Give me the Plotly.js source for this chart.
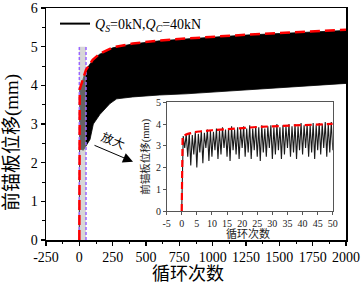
<!DOCTYPE html>
<html>
<head>
<meta charset="utf-8">
<script src="https://cdn.plot.ly/plotly-3.0.1.min.js"></script>
<style>html,body{margin:0;padding:0;background:#fff;}#chart{width:363px;height:283px;}</style>
</head>
<body>
<div id="chart"></div>
<script>
// ---- Main chart data (cycles vs. front anchor plate displacement, mm) ----
var upperCycles = [0, 3, 50, 100, 150, 250, 400, 600, 800, 1000, 1250, 1500, 1750, 2000];
var upperDisp   = [0, 3.9, 4.4, 4.65, 4.8, 4.97, 5.07, 5.15, 5.2, 5.25, 5.3, 5.34, 5.38, 5.42];
var lowerCycles = [2000, 1750, 1500, 1250, 1000, 800, 600, 400, 280, 230, 155, 105, 80, 50, 30, 10, 2, 0];
var lowerDisp   = [4.05, 3.99, 3.93, 3.87, 3.82, 3.78, 3.75, 3.7, 3.65, 3.53, 3.25, 3.0, 2.6, 2.45, 2.32, 2.35, 2.6, 0];
var envCycles = [0, 3, 50, 100, 150, 250, 400, 600, 800, 1000, 1250, 1500, 1750, 2000];
var envDisp   = [0, 3.9, 4.4, 4.66, 4.81, 4.98, 5.08, 5.16, 5.21, 5.26, 5.31, 5.35, 5.39, 5.44];
var zoomCycles = [0, 50];
var zoomDisp = [0, 5];

// ---- Inset data (first 50 cycles) ----
var inCycles = [0,0.5,1,1.5,2,2.5,3,3.5,4,4.5,5,5.5,6,6.5,7,7.5,8,8.5,9,9.5,10,10.5,11,11.5,12,12.5,13,13.5,14,14.5,15,15.5,16,16.5,17,17.5,18,18.5,19,19.5,20,20.5,21,21.5,22,22.5,23,23.5,24,24.5,25,25.5,26,26.5,27,27.5,28,28.5,29,29.5,30,30.5,31,31.5,32,32.5,33,33.5,34,34.5,35,35.5,36,36.5,37,37.5,38,38.5,39,39.5,40,40.5,41,41.5,42,42.5,43,43.5,44,44.5,45,45.5,46,46.5,47,47.5,48,48.5,49,49.5,50];
var inDisp = [0,3.45,2.9,3.55,2.5,3.6,2.1,3.5,2.6,3.65,2.0,3.55,2.7,3.7,2.2,3.6,2.9,3.75,2.3,3.7,2.5,3.65,2.8,3.8,2.4,3.7,2.6,3.85,2.9,3.75,2.5,3.8,2.3,3.9,2.8,3.75,2.6,3.85,2.4,3.8,2.9,3.9,2.5,3.8,2.7,3.95,2.4,3.8,2.8,3.9,2.5,3.85,2.3,3.95,2.7,3.8,2.5,3.9,2.9,3.95,2.4,3.85,2.6,4.0,2.8,3.85,2.4,3.95,2.6,3.9,2.9,4.0,2.5,3.9,2.7,4.0,2.4,3.9,2.8,4.05,2.6,3.95,2.9,4.0,2.5,3.95,2.7,4.05,2.4,3.95,2.8,4.05,2.6,4.0,2.9,4.1,2.5,4.0,2.7,4.1,2.8];
var inEnvCycles = [0, 0.3, 2, 5, 10, 15, 20, 25, 30, 35, 40, 45, 50];
var inEnvDisp   = [0, 3.45, 3.55, 3.65, 3.72, 3.78, 3.84, 3.87, 3.9, 3.93, 3.96, 3.98, 4.01];

// ---- Tick labels ----
var mainXTicks = [-250, 0, 250, 500, 750, 1000, 1250, 1500, 1750, 2000];
var mainXText  = ['-250', '0', '250', '500', '750', '1000', '1250', '1500', '1750', '2000'];
var inXTicks = [-5, 0, 5, 10, 15, 20, 25, 30, 35, 40, 45, 50];
var inXText  = ['-5', '0', '5', '10', '15', '20', '25', '30', '35', '40', '45', '50'];

var legendName = '<i>Q</i><sub><i>S</i></sub>=0kN,<i>Q</i><sub><i>C</i></sub>=40kN';
var serif = 'Liberation Serif, Times New Roman, Noto Sans CJK SC, serif';

var traces = [
  { // black band of cyclic displacement
    x: upperCycles.concat(lowerCycles), y: upperDisp.concat(lowerDisp),
    type: 'scatter', mode: 'lines', fill: 'toself', fillcolor: '#000',
    line: {color: '#000', width: 0.8}, showlegend: false, hoverinfo: 'skip',
    xaxis: 'x', yaxis: 'y'
  },
  { // zoom window shading
    x: [zoomCycles[0], zoomCycles[1], zoomCycles[1], zoomCycles[0], zoomCycles[0]],
    y: [zoomDisp[0], zoomDisp[0], zoomDisp[1], zoomDisp[1], zoomDisp[0]],
    type: 'scatter', mode: 'lines', fill: 'toself', fillcolor: 'rgba(183,183,183,0.55)',
    line: {width: 0}, showlegend: false, hoverinfo: 'skip', xaxis: 'x', yaxis: 'y'
  },
  {
    x: [zoomCycles[0], zoomCycles[0]], y: zoomDisp,
    type: 'scatter', mode: 'lines', line: {color: '#9966ff', width: 1.5, dash: '3px,2px'},
    showlegend: false, hoverinfo: 'skip', xaxis: 'x', yaxis: 'y'
  },
  {
    x: [zoomCycles[1], zoomCycles[1]], y: zoomDisp,
    type: 'scatter', mode: 'lines', line: {color: '#9966ff', width: 1.5, dash: '3px,2px'},
    showlegend: false, hoverinfo: 'skip', xaxis: 'x', yaxis: 'y'
  },
  { // red dashed envelope
    x: envCycles, y: envDisp, type: 'scatter', mode: 'lines',
    line: {color: '#ff0000', width: 2.5, dash: '10px,5px'},
    showlegend: false, hoverinfo: 'skip', xaxis: 'x', yaxis: 'y'
  },
  { // legend entry
    x: [null], y: [null], type: 'scatter', mode: 'lines', name: legendName,
    line: {color: '#000', width: 2}, xaxis: 'x', yaxis: 'y'
  },
  { // inset cyclic line
    x: inCycles, y: inDisp, type: 'scatter', mode: 'lines',
    line: {color: '#1a1a1a', width: 1.1}, showlegend: false, hoverinfo: 'skip',
    xaxis: 'x2', yaxis: 'y2'
  },
  { // inset envelope
    x: inEnvCycles, y: inEnvDisp, type: 'scatter', mode: 'lines',
    line: {color: '#ff0000', width: 2.2, dash: '7px,4px'},
    showlegend: false, hoverinfo: 'skip', xaxis: 'x2', yaxis: 'y2'
  }
];

var layout = {
  width: 363, height: 283,
  margin: {l: 46, r: 17, t: 8, b: 43, pad: 0},
  paper_bgcolor: '#fff', plot_bgcolor: '#fff',
  font: {family: serif, color: '#000', size: 14},
  showlegend: true,
  legend: {x: 0.03, y: 0.931, xanchor: 'left', yanchor: 'middle', bgcolor: 'rgba(0,0,0,0)',
           borderwidth: 0, font: {family: serif, size: 14, color: '#000'}},
  xaxis: {
    domain: [0, 1], range: [-250, 2000], showgrid: false, zeroline: false,
    showline: true, linecolor: '#000', linewidth: 1.5, mirror: true,
    ticks: 'outside', ticklen: 4, tickwidth: 1.2, tickcolor: '#000',
    tickvals: mainXTicks, ticktext: mainXText,
    minor: {dtick: 125, tick0: 0, ticks: 'outside', ticklen: 2.5, tickwidth: 1, tickcolor: '#000'},
    tickfont: {family: serif, size: 14}, anchor: 'y'
  },
  yaxis: {
    domain: [0, 1], range: [0, 6], dtick: 1, showgrid: false, zeroline: false,
    showline: true, linecolor: '#000', linewidth: 1.5, mirror: true,
    ticks: 'outside', ticklen: 4, tickwidth: 1.2, tickcolor: '#000',
    minor: {dtick: 0.5, ticks: 'outside', ticklen: 2.5, tickwidth: 1, tickcolor: '#000'},
    tickfont: {family: serif, size: 14}, anchor: 'x'
  },
  xaxis2: {
    domain: [0.402, 0.956], range: [-5, 50], anchor: 'y2', showgrid: false, zeroline: false,
    showline: true, linecolor: '#555', linewidth: 1, mirror: true,
    ticks: 'outside', ticklen: 2.5, tickwidth: 1, tickcolor: '#555',
    tickvals: inXTicks, ticktext: inXText, tickfont: {family: serif, size: 10, color: '#222'}
  },
  yaxis2: {
    domain: [0.125, 0.593], range: [0, 5], dtick: 1, anchor: 'x2', showgrid: false, zeroline: false,
    showline: true, linecolor: '#555', linewidth: 1, mirror: true,
    ticks: 'outside', ticklen: 2.5, tickwidth: 1, tickcolor: '#555',
    tickfont: {family: serif, size: 10, color: '#222'},
    title: {text: '前锚板位移(mm)', font: {family: serif, size: 10.5, color: '#222'}, standoff: 4}
  },
  annotations: [
    {xref: 'paper', yref: 'paper', x: -0.113, y: 0.418, text: '前锚板位移(mm)', textangle: -90,
     showarrow: false, font: {family: serif, size: 19, color: '#000'}, xanchor: 'center', yanchor: 'middle'},
    {xref: 'paper', yref: 'paper', x: 0.473, y: -0.147, text: '循环次数',
     showarrow: false, font: {family: serif, size: 18, color: '#000'}, xanchor: 'center', yanchor: 'middle'},
    {xref: 'paper', yref: 'paper', x: 0.673, y: 0.028, text: '循环次数',
     showarrow: false, font: {family: serif, size: 11, color: '#222'}, xanchor: 'center', yanchor: 'middle'},
    {xref: 'paper', yref: 'paper', x: 0.223, y: 0.427, text: '放大', textangle: 22,
     showarrow: false, font: {family: serif, size: 12, color: '#000'}, xanchor: 'center', yanchor: 'middle'},
    {xref: 'paper', yref: 'paper', x: 0.29, y: 0.3375, text: '', showarrow: true,
     ax: -40, ay: -17, arrowhead: 2, arrowsize: 2, arrowwidth: 1, arrowcolor: '#000', standoff: 0}
  ]
};

Plotly.newPlot('chart', traces, layout, {displayModeBar: false, staticPlot: true});
</script>
</body>
</html>
